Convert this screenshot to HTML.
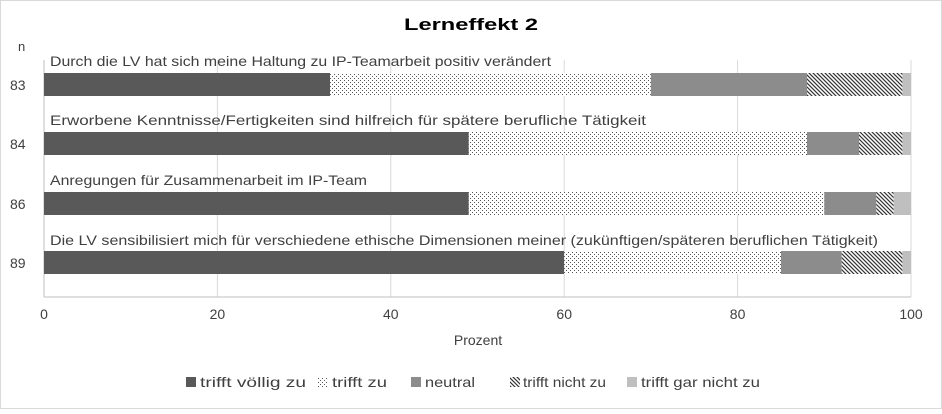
<!DOCTYPE html>
<html><head><meta charset="utf-8"><style>
body{margin:0;background:#fff}
svg text{font-family:"Liberation Sans",sans-serif;fill:#404040}
</style></head><body>
<svg width="942" height="409" xmlns="http://www.w3.org/2000/svg">
<defs>
<pattern id="dots" width="4" height="4" patternUnits="userSpaceOnUse">
<rect width="4" height="4" fill="#fff"/><rect x="0" y="0" width="1" height="1" fill="#555"/><rect x="2" y="2" width="1" height="1" fill="#555"/>
</pattern>
<pattern id="hatch" width="4" height="4" patternUnits="userSpaceOnUse">
<rect width="4" height="4" fill="#fff"/><path d="M-1,-1 L5,5 M-1,3 L1,5 M3,-1 L5,1" stroke="#333" stroke-width="1.2"/>
</pattern>
</defs>
<rect x="0.5" y="0.5" width="941" height="408" fill="#fff" stroke="#d9d9d9"/>
<text x="404" y="30" textLength="134" lengthAdjust="spacingAndGlyphs" font-size="17" font-weight="bold" style="fill:#000">Lerneffekt 2</text>
<g stroke="#d9d9d9" stroke-width="1">
<line x1="217.4" y1="60" x2="217.4" y2="297"/><line x1="390.8" y1="60" x2="390.8" y2="297"/>
<line x1="564.2" y1="60" x2="564.2" y2="297"/><line x1="737.6" y1="60" x2="737.6" y2="297"/>
<line x1="911" y1="60" x2="911" y2="297"/>
</g>
<line x1="44" y1="60" x2="44" y2="297" stroke="#bfbfbf"/>
<line x1="44" y1="297" x2="911" y2="297" stroke="#bfbfbf"/>
<g font-size="14">
<text x="18" y="51" font-size="13">n</text>
<text x="10" y="90">83</text><text x="10" y="149">84</text><text x="10" y="209">86</text><text x="10" y="268">89</text>
<text x="50" y="66" textLength="501" lengthAdjust="spacingAndGlyphs">Durch die LV hat sich meine Haltung zu IP-Teamarbeit positiv verändert</text>
<text x="50" y="125" textLength="596" lengthAdjust="spacingAndGlyphs">Erworbene Kenntnisse/Fertigkeiten sind hilfreich für spätere berufliche Tätigkeit</text>
<text x="50" y="185" textLength="317" lengthAdjust="spacingAndGlyphs">Anregungen für Zusammenarbeit im IP-Team</text>
<text x="50" y="245" textLength="828" lengthAdjust="spacingAndGlyphs">Die LV sensibilisiert mich für verschiedene ethische Dimensionen meiner (zukünftigen/späteren beruflichen Tätigkeit)</text>
</g>
<g>
<rect x="44" y="73" width="286.1" height="23" fill="#595959"/>
<rect x="330.1" y="73" width="320.8" height="23" fill="url(#dots)"/>
<rect x="650.9" y="73" width="156.1" height="23" fill="#8c8c8c"/>
<rect x="807" y="73" width="95.4" height="23" fill="url(#hatch)"/>
<rect x="902.4" y="73" width="8.6" height="23" fill="#bfbfbf"/>

<rect x="44" y="132" width="424.8" height="23" fill="#595959"/>
<rect x="468.8" y="132" width="338.2" height="23" fill="url(#dots)"/>
<rect x="807" y="132" width="52" height="23" fill="#8c8c8c"/>
<rect x="859" y="132" width="43.4" height="23" fill="url(#hatch)"/>
<rect x="902.4" y="132" width="8.6" height="23" fill="#bfbfbf"/>

<rect x="44" y="192" width="424.8" height="23" fill="#595959"/>
<rect x="468.8" y="192" width="355.5" height="23" fill="url(#dots)"/>
<rect x="824.3" y="192" width="52" height="23" fill="#8c8c8c"/>
<rect x="876.3" y="192" width="17.4" height="23" fill="url(#hatch)"/>
<rect x="893.7" y="192" width="17.3" height="23" fill="#bfbfbf"/>

<rect x="44" y="251" width="520.2" height="23" fill="#595959"/>
<rect x="564.2" y="251" width="216.8" height="23" fill="url(#dots)"/>
<rect x="781" y="251" width="60.7" height="23" fill="#8c8c8c"/>
<rect x="841.7" y="251" width="60.7" height="23" fill="url(#hatch)"/>
<rect x="902.4" y="251" width="8.6" height="23" fill="#bfbfbf"/>
</g>
<g font-size="14" text-anchor="middle">
<text x="44" y="319">0</text><text x="217.4" y="319">20</text><text x="390.8" y="319">40</text>
<text x="564.2" y="319">60</text><text x="737.6" y="319">80</text><text x="911" y="319">100</text>
<text x="478" y="345">Prozent</text>
</g>
<g font-size="14">
<rect x="186" y="377" width="10" height="10" fill="#595959"/><text x="200" y="387" textLength="106" lengthAdjust="spacingAndGlyphs">trifft völlig zu</text>
<rect x="318" y="377" width="10" height="10" fill="url(#dots)"/><text x="332" y="387" textLength="55" lengthAdjust="spacingAndGlyphs">trifft zu</text>
<rect x="411" y="377" width="10" height="10" fill="#8c8c8c"/><text x="425" y="387" textLength="50" lengthAdjust="spacingAndGlyphs">neutral</text>
<rect x="510" y="377" width="10" height="10" fill="url(#hatch)"/><text x="523" y="387" textLength="83" lengthAdjust="spacingAndGlyphs">trifft nicht zu</text>
<rect x="627" y="377" width="10" height="10" fill="#bfbfbf"/><text x="641" y="387" textLength="119" lengthAdjust="spacingAndGlyphs">trifft gar nicht zu</text>
</g>
</svg>
</body></html>
